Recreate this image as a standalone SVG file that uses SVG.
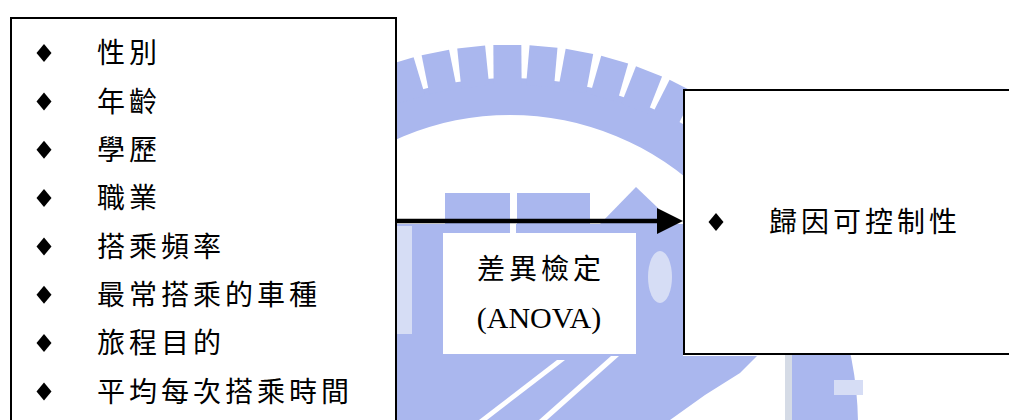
<svg xmlns="http://www.w3.org/2000/svg" width="1009" height="420" viewBox="0 0 1009 420">
<style>
.box{fill:#fff;stroke:#000;stroke-width:2}
.cjk{font-family:"Noto Sans CJK TC","Noto Sans CJK SC",sans-serif;font-size:28px;letter-spacing:4px;fill:#000}
.lat{font-family:"Liberation Serif",serif;font-size:30px;fill:#000}
.wm{fill:#aab7ee}
.wl{fill:#d6ddf5}
</style>
<defs>
<path id="dia" d="M0,-9 L7.5,0 L0,9 L-7.5,0 Z" fill="#000"/>
<rect id="tooth" x="496" y="45" width="28" height="40"/>
<marker id="ah" markerUnits="userSpaceOnUse" markerWidth="26" markerHeight="26" refX="0" refY="13" orient="auto" viewBox="0 0 26 26">
<path d="M0,0 L26,13 L0,26 Z" fill="#000"/>
</marker>
</defs>
<rect width="1009" height="420" fill="#fff"/>
<g id="watermark">
<path class="wm" fill-rule="evenodd" d="M162,426 a348,348 0 1,0 696,0 a348,348 0 1,0 -696,0 Z M232,393 a278,278 0 1,0 556,0 a278,278 0 1,0 -556,0 Z"/>
<g class="wm">
<use href="#tooth" transform="rotate(-22.2 510 426)"/>
<use href="#tooth" transform="rotate(-16.75 510 426)"/>
<use href="#tooth" transform="rotate(-11.3 510 426)"/>
<use href="#tooth" transform="rotate(-5.85 510 426)"/>
<use href="#tooth" transform="rotate(-0.4 510 426)"/>
<use href="#tooth" transform="rotate(5.05 510 426)"/>
<use href="#tooth" transform="rotate(10.5 510 426)"/>
<use href="#tooth" transform="rotate(15.95 510 426)"/>
<use href="#tooth" transform="rotate(21.4 510 426)"/>
<use href="#tooth" transform="rotate(26.85 510 426)"/>
</g>
<rect class="wm" x="445" y="193" width="65" height="31"/>
<rect class="wm" x="517" y="193" width="73" height="31"/>
<polygon class="wm" points="600,224 636,187 658,208 658,224"/>
<path class="wm" d="M396,224 H683 V356 H757 L740,373 L705,395 L670,420 H396 Z"/>
<rect fill="#fff" x="510" y="224" width="6" height="10"/>
<polygon fill="#fff" points="557,360 565,360 487,420 479,420"/>
<polygon fill="#fff" points="611,356 619,356 547,420 539,420"/>
<rect class="wl" x="396" y="226" width="16" height="108"/>
<ellipse class="wl" cx="660" cy="277" rx="12" ry="26"/>
<rect fill="#d5dbe6" x="785" y="355" width="7" height="65"/>
<rect class="wl" x="834" y="380" width="29" height="15"/>
</g>
<g id="connectors">
<line x1="396" y1="221" x2="657" y2="221" stroke="#000" stroke-width="4.5" marker-end="url(#ah)"/>
</g>
<g id="factors">
<rect class="box" x="11" y="18" width="385" height="420"/>
<use href="#dia" x="44" y="53"/><text class="cjk" x="97" y="63.2">性別</text>
<use href="#dia" x="44" y="101.4"/><text class="cjk" x="97" y="111.6">年齡</text>
<use href="#dia" x="44" y="149.7"/><text class="cjk" x="97" y="159.9">學歷</text>
<use href="#dia" x="44" y="198"/><text class="cjk" x="97" y="208.2">職業</text>
<use href="#dia" x="44" y="246.4"/><text class="cjk" x="97" y="256.6">搭乘頻率</text>
<use href="#dia" x="44" y="294.8"/><text class="cjk" x="97" y="305">最常搭乘的車種</text>
<use href="#dia" x="44" y="343.1"/><text class="cjk" x="97" y="353.3">旅程目的</text>
<use href="#dia" x="44" y="391.5"/><text class="cjk" x="97" y="401.7">平均每次搭乘時間</text>
</g>
<g id="result">
<rect class="box" x="684" y="90" width="340" height="264"/>
<use href="#dia" x="716" y="222"/><text class="cjk" x="769" y="231.8">歸因可控制性</text>
</g>
<g id="test-label">
<rect x="443" y="233" width="193" height="121" fill="#fff"/>
<text class="cjk" x="477" y="278.6">差異檢定</text>
<text class="lat" x="539" y="328" text-anchor="middle">(ANOVA)</text>
</g>
</svg>
